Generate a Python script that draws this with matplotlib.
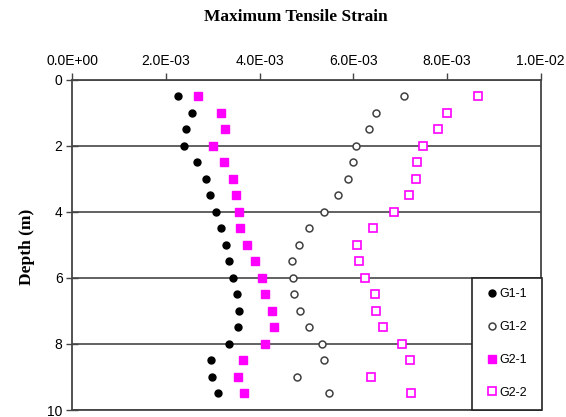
import matplotlib
matplotlib.use("Agg")
import matplotlib.pyplot as plt
from matplotlib.patches import Rectangle
from matplotlib.ticker import FuncFormatter

# --- Data ---
depth = [0.5, 1.0, 1.5, 2.0, 2.5, 3.0, 3.5, 4.0, 4.5, 5.0,
         5.5, 6.0, 6.5, 7.0, 7.5, 8.0, 8.5, 9.0, 9.5]

# strain values in units of 1e-3
g1_1 = [2.25, 2.55, 2.42, 2.38, 2.67, 2.85, 2.95, 3.07, 3.17, 3.28,
        3.35, 3.44, 3.51, 3.56, 3.53, 3.34, 2.97, 2.99, 3.12]
g1_2 = [7.08, 6.49, 6.33, 6.06, 6.00, 5.89, 5.67, 5.37, 5.05, 4.85,
        4.69, 4.72, 4.73, 4.87, 5.05, 5.34, 5.37, 4.79, 5.49]
g2_1 = [2.69, 3.17, 3.27, 3.01, 3.25, 3.44, 3.49, 3.55, 3.59, 3.73,
        3.90, 4.06, 4.12, 4.26, 4.31, 4.12, 3.65, 3.53, 3.67]
g2_2 = [8.66, 8.00, 7.82, 7.50, 7.36, 7.34, 7.20, 6.87, 6.43, 6.09,
        6.13, 6.25, 6.46, 6.48, 6.63, 7.04, 7.22, 6.37, 7.24]

x_ticks = [0, 0.002, 0.004, 0.006, 0.008, 0.01]
y_ticks = [0, 2, 4, 6, 8, 10]

# --- Figure ---
W, H = 566, 417
fig = plt.figure(figsize=(W / 100, H / 100), dpi=100)
ax = fig.add_axes([72.3 / W, 1 - 410 / H, (540.5 - 72.3) / W, (410 - 79.5) / H])

def scaled(vals):
    return [v * 1e-3 for v in vals]

ax.plot(scaled(g1_1), depth, linestyle="none", marker="o", ms=5,
        mfc="black", mec="black", label="G1-1", zorder=3)
ax.plot(scaled(g1_2), depth, linestyle="none", marker="o", ms=5,
        mfc="white", mec="#404040", mew=1.1, label="G1-2", zorder=3)
ax.plot(scaled(g2_1), depth, linestyle="none", marker="s", ms=5.2,
        mfc="#ff00ff", mec="#ff00ff", label="G2-1", zorder=3)
ax.plot(scaled(g2_2), depth, linestyle="none", marker="s", ms=5.2,
        mfc="white", mec="#ff00ff", mew=1.2, label="G2-2", zorder=3)

ax.set_xlim(0, 0.01)
ax.set_ylim(10, 0)
ax.set_xticks(x_ticks)
ax.set_yticks(y_ticks)
ax.xaxis.tick_top()
ax.xaxis.set_major_formatter(FuncFormatter(lambda v, p: "{:.1E}".format(v)))

ax.tick_params(axis="x", direction="out", length=5, width=1, color="#444444",
               labelsize=10, pad=3)
ax.tick_params(axis="y", direction="inout", length=8, width=1, color="#444444",
               labelsize=10, pad=3)
for lab in ax.get_xticklabels() + ax.get_yticklabels():
    lab.set_fontfamily("Liberation Sans")

ax.yaxis.grid(True, color="#555555", linewidth=1.3)
ax.set_axisbelow(True)
for sp in ax.spines.values():
    sp.set_color("#444444")
    sp.set_linewidth(1.3)

fig.text(296 / W, 1 - 17 / H, "Maximum Tensile Strain", ha="center", va="center",
         fontfamily="Liberation Serif", fontweight="bold", fontsize=12.5)
fig.text(27 / W, 1 - 247 / H, "Depth (m)", ha="center", va="center", rotation=90,
         fontfamily="Liberation Serif", fontweight="bold", fontsize=12.5)

# legend box (Excel-style, wider on the left than its content)
fig.patches.append(Rectangle((472 / W, 1 - 410 / H), 70 / W, 132 / H,
                             transform=fig.transFigure, facecolor="white",
                             edgecolor="#222222", linewidth=1.2, zorder=5))
leg = fig.legend(loc="center", bbox_to_anchor=(508 / W, 1 - 343.5 / H),
                 frameon=False,
                 prop={"family": "Liberation Sans", "size": 9},
                 handlelength=0.6, handletextpad=0.3, labelspacing=1.67,
                 borderpad=0.2, borderaxespad=0)
leg.set_zorder(6)

plt.savefig("out.png", dpi=100)
plt.close(fig)
